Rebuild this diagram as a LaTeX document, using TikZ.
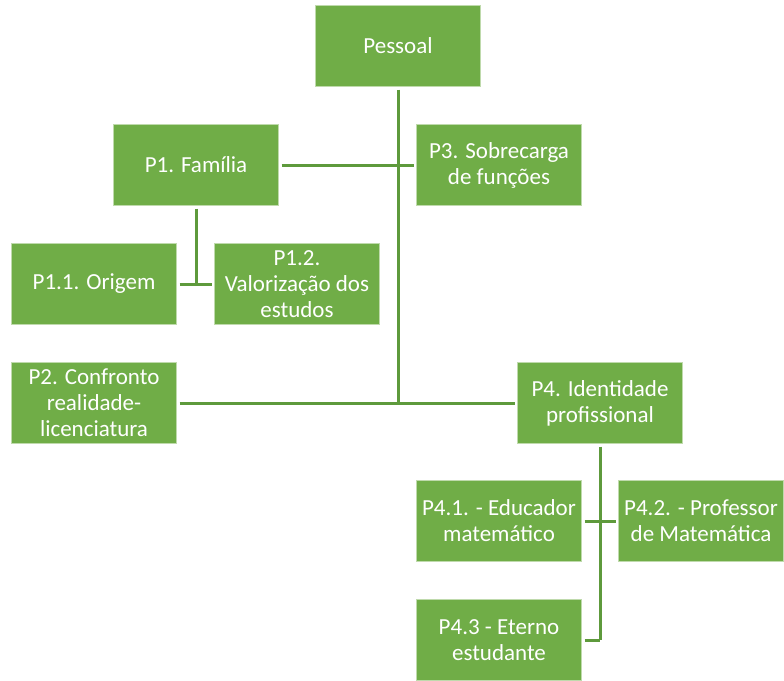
\documentclass[tikz,border=0pt]{standalone}
\usepackage{fontspec}
\setmainfont{Carlito}
\usepackage{tikz}
\usetikzlibrary{positioning}

\definecolor{boxgreen}{HTML}{70AD47}
\definecolor{linegreen}{HTML}{5E9A3C}

\begin{document}
\begin{tikzpicture}[x=1pt, y=-1pt,
 tema/.style={draw=white!55!boxgreen, line width=0.6pt, fill=boxgreen, text=white,
   shape=rectangle, minimum width=165pt, minimum height=81pt, inner sep=0pt,
   outer sep=3pt, align=center, font=\fontsize{23}{26}\selectfont},
 ramo/.style={draw=linegreen, line width=3pt}]

  \useasboundingbox (0,0) rectangle (784,680);

  \node[tema] (pessoal) at (398,46) {Pessoal};
  \node[tema] (fam) at (196,165) {P1. Família};
  \node[tema] (sobre) at (499,165) {P3. Sobrecarga\\de funções};
  \node[tema] (origem) at (94,284) {P1.1. Origem};
  \node[tema] (valor) at (297,284) {P1.2.\\Valorização dos\\estudos};
  \node[tema] (confronto) at (94,403) {P2. Confronto\\realidade-\\licenciatura};
  \node[tema] (ident) at (600,403) {P4. Identidade\\profissional};
  \node[tema] (educ) at (499,521) {P4.1. - Educador\\matemático};
  \node[tema] (prof) at (701,521) {P4.2. - Professor\\de Matemática};
  \node[tema] (eterno) at (499,640) {P4.3 - Eterno\\estudante};

  % pontos de juncao
  \coordinate (jp) at (pessoal.south |- confronto.east);
  \coordinate (jf) at (fam.south |- origem.east);
  \coordinate (ji) at (ident.south |- eterno.east);

  \path[ramo]
    (pessoal.south) -- (jp)
    (confronto.east) -- (ident.west)
    (fam.east) -- (sobre.west)
    (fam.south) -- (jf)
    (origem.east) -- (valor.west)
    (ident.south) -- (ji)
    (educ.east) -- (prof.west)
    (eterno.east) -- (ji);
\end{tikzpicture}
\end{document}
